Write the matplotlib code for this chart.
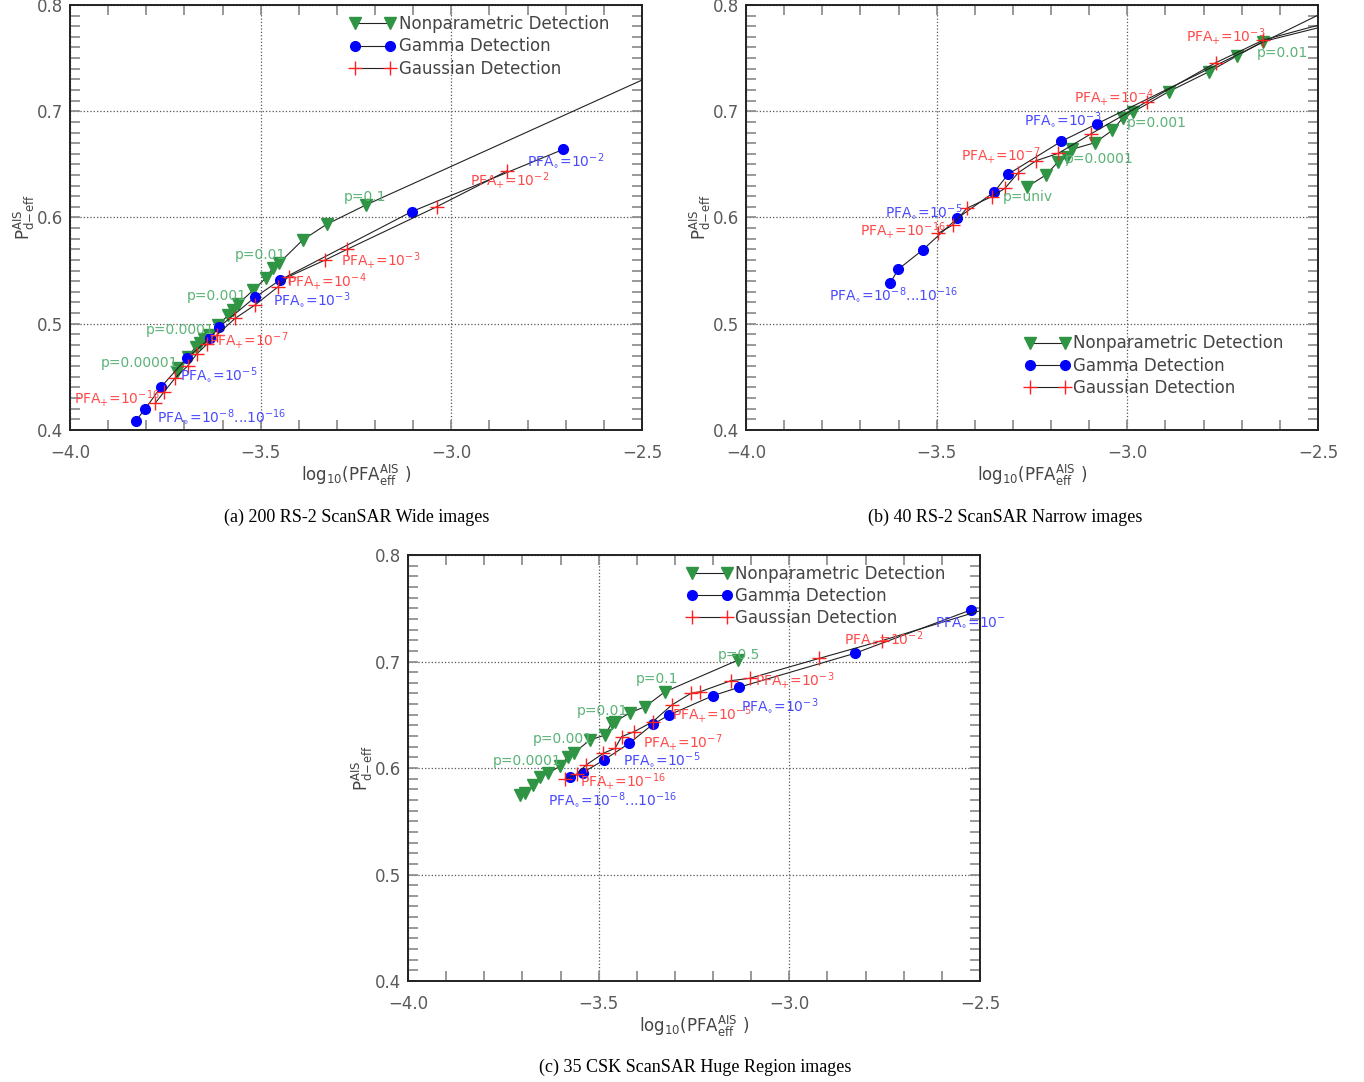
import numpy as np
import matplotlib
matplotlib.use('Agg')
import matplotlib.pyplot as plt
from matplotlib.ticker import MultipleLocator, FuncFormatter

# ---- data ----
# (a) 200 RS-2 ScanSAR Wide
a_np_x = [-3.720, -3.716, -3.691, -3.670, -3.659, -3.649, -3.635, -3.611, -3.585, -3.572,
          -3.559, -3.519, -3.487, -3.467, -3.452, -3.390, -3.327, -3.224, -2.400]
a_np_y = [0.4549, 0.4581, 0.4690, 0.4784, 0.4816, 0.4854, 0.4894, 0.4988, 0.5082, 0.5129,
          0.5186, 0.5318, 0.5428, 0.5528, 0.5569, 0.5788, 0.5936, 0.6118, 0.7456]
a_gam_x = [-3.827, -3.803, -3.762, -3.694, -3.633, -3.608, -3.515, -3.449, -3.104, -2.706]
a_gam_y = [0.4088, 0.4198, 0.4402, 0.4675, 0.4863, 0.4972, 0.5249, 0.5412, 0.6055, 0.6642]
a_gau_x = [-3.777, -3.753, -3.725, -3.691, -3.668, -3.641, -3.615, -3.567, -3.515, -3.454,
           -3.427, -3.331, -3.273, -3.038, -2.853]
a_gau_y = [0.4251, 0.4360, 0.4487, 0.4605, 0.4715, 0.4807, 0.4894, 0.5051, 0.5176, 0.5349,
           0.5443, 0.5600, 0.5701, 0.6102, 0.6440]

# (b) 40 RS-2 ScanSAR Narrow
b_np_x = [-3.262, -3.214, -3.181, -3.159, -3.145, -3.085, -3.040, -3.012, -2.985, -2.892,
          -2.786, -2.713, -2.645, -2.400]
b_np_y = [0.6290, 0.6400, 0.6525, 0.6567, 0.6642, 0.6704, 0.6819, 0.6936, 0.6993, 0.7184,
          0.7372, 0.7520, 0.7655, 0.7875]
b_gam_x = [-3.622, -3.601, -3.537, -3.446, -3.350, -3.312, -3.173, -3.079, -2.400]
b_gam_y = [0.5381, 0.5512, 0.5694, 0.5992, 0.6237, 0.6409, 0.6717, 0.6883, 0.8081]
b_gau_x = [-3.496, -3.458, -3.421, -3.356, -3.321, -3.286, -3.239, -3.181, -3.096, -2.949,
           -2.768, -2.643, -2.400]
b_gau_y = [0.5851, 0.5929, 0.6087, 0.6196, 0.6275, 0.6422, 0.6535, 0.6604, 0.6786, 0.7090,
           0.7457, 0.7671, 0.7906]

# (c) 35 CSK ScanSAR Huge Region
c_np_x = [-3.706, -3.693, -3.671, -3.654, -3.632, -3.601, -3.580, -3.564, -3.523, -3.483,
          -3.466, -3.457, -3.418, -3.378, -3.326, -3.134]
c_np_y = [0.5746, 0.5762, 0.5840, 0.5918, 0.5950, 0.6019, 0.6106, 0.6144, 0.6263, 0.6310,
          0.6420, 0.6435, 0.6519, 0.6576, 0.6716, 0.7014]
c_gam_x = [-3.575, -3.542, -3.486, -3.420, -3.358, -3.315, -3.201, -3.132, -2.828, -2.524]
c_gam_y = [0.5913, 0.5956, 0.6075, 0.6232, 0.6410, 0.6498, 0.6678, 0.6758, 0.7077, 0.7484]
c_gau_x = [-3.588, -3.558, -3.533, -3.488, -3.457, -3.440, -3.407, -3.358, -3.308, -3.258,
           -3.234, -3.153, -3.104, -2.921, -2.758, -2.460]
c_gau_y = [0.5894, 0.5941, 0.6028, 0.6138, 0.6185, 0.6294, 0.6341, 0.6435, 0.6592, 0.6701,
           0.6716, 0.6820, 0.6842, 0.7030, 0.7195, 0.7520]

captions = ['(a) 200 RS-2 ScanSAR Wide images',
            '(b) 40 RS-2 ScanSAR Narrow images',
            '(c) 35 CSK ScanSAR Huge Region images']
series_names = ['Nonparametric Detection', 'Gamma Detection', 'Gaussian Detection']

# ---- styles ----
GREEN, BLUE, RED = '#2f9444', '#0000ff', '#ff2020'
GREEN_T, BLUE_T, RED_T = '#5cb377', '#4a4aff', '#ff4a4a'
TXT = '#444444'

P = 'PFA$_{+}$'
O = 'PFA$_{\\circ}$'

notes_a = [('p=0.1', -3.281, 0.6193, GREEN_T), ('p=0.01', -3.567, 0.5647, GREEN_T),
           ('p=0.001', -3.693, 0.5261, GREEN_T), ('p=0.0001', -3.801, 0.4941, GREEN_T),
           ('p=0.00001', -3.919, 0.4631, GREEN_T),
           (P + '=10$^{-16}$', -3.990, 0.4301, RED_T),
           (O + '=10$^{-8}$...10$^{-16}$', -3.772, 0.4122, BLUE_T),
           (O + '=10$^{-5}$', -3.712, 0.4518, BLUE_T),
           (P + '=10$^{-7}$', -3.635, 0.4838, RED_T),
           (O + '=10$^{-3}$', -3.468, 0.5225, BLUE_T),
           (P + '=10$^{-4}$', -3.431, 0.5395, RED_T),
           (P + '=10$^{-3}$', -3.289, 0.5591, RED_T),
           (P + '=10$^{-2}$', -2.951, 0.6344, RED_T),
           (O + '=10$^{-2}$', -2.801, 0.6532, BLUE_T)]
notes_b = [(P + '=10$^{-3}$', -2.846, 0.7699, RED_T), ('p=0.01', -2.660, 0.7548, GREEN_T),
           (P + '=10$^{-4}$', -3.140, 0.7134, RED_T), (O + '=10$^{-3}$', -3.271, 0.6918, BLUE_T),
           ('p=0.001', -3.001, 0.6889, GREEN_T), (P + '=10$^{-7}$', -3.436, 0.6579, RED_T),
           ('p=0.0001', -3.163, 0.6551, GREEN_T), ('p=univ', -3.326, 0.6193, GREEN_T),
           (O + '=10$^{-5}$', -3.635, 0.6052, BLUE_T), (P + '=10$^{-16}$', -3.701, 0.5882, RED_T),
           (O + '=10$^{-8}$...10$^{-16}$', -3.782, 0.5271, BLUE_T)]
notes_c = [('p=0.5', -3.187, 0.7061, GREEN_T), ('p=0.1', -3.402, 0.6836, GREEN_T),
           ('p=0.01', -3.557, 0.6535, GREEN_T), ('p=0.001', -3.672, 0.6272, GREEN_T),
           ('p=0.0001', -3.777, 0.6066, GREEN_T),
           (P + '=10$^{-16}$', -3.549, 0.5872, RED_T),
           (O + '=10$^{-8}$...10$^{-16}$', -3.633, 0.5705, BLUE_T),
           (O + '=10$^{-5}$', -3.436, 0.6075, BLUE_T),
           (P + '=10$^{-7}$', -3.384, 0.6235, RED_T),
           (P + '=10$^{-5}$', -3.308, 0.6505, RED_T),
           (O + '=10$^{-3}$', -3.128, 0.6580, BLUE_T),
           (P + '=10$^{-3}$', -3.090, 0.6817, RED_T),
           (P + '=10$^{-2}$', -2.857, 0.7202, RED_T),
           (O + '=10$^{-}$', -2.618, 0.7371, BLUE_T)]

W, H = 1364, 1082
fig = plt.figure(figsize=(W / 100, H / 100), dpi=100)


def px_axes(left, top, right, bottom):
    return fig.add_axes([left / W, 1 - bottom / H, (right - left) / W, (bottom - top) / H])


def fmt(v, pos):
    return ('%.1f' % v).replace('-', '\u2212')


def draw_panel(ax, np_xy, gam_xy, gau_xy, notes, leg_anchor):
    ax.plot(np_xy[0], np_xy[1], color='#222222', lw=0.8, marker='v', ms=8,
            mfc=GREEN, mec=GREEN, label=series_names[0])
    ax.plot(gam_xy[0], gam_xy[1], color='#222222', lw=0.8, marker='o', ms=7,
            mfc=BLUE, mec=BLUE, label=series_names[1])
    ax.plot(gau_xy[0], gau_xy[1], color='#222222', lw=0.8, marker='+', ms=10, mew=1.0,
            mfc=RED, mec=RED, label=series_names[2])
    for txt, x, y, c in notes:
        ax.text(x, y, txt, color=c, fontsize=10, ha='left', va='center')

    ax.set_xlim(-4.0, -2.5)
    ax.set_ylim(0.4, 0.8)
    ax.xaxis.set_major_locator(MultipleLocator(0.5))
    ax.xaxis.set_minor_locator(MultipleLocator(0.1))
    ax.yaxis.set_major_locator(MultipleLocator(0.1))
    ax.yaxis.set_minor_locator(MultipleLocator(0.01))
    ax.xaxis.set_major_formatter(FuncFormatter(fmt))
    ax.yaxis.set_major_formatter(FuncFormatter(fmt))
    ax.tick_params(which='both', direction='in', top=True, right=True, length=7,
                   width=1.2, color='#888888', labelcolor='#5a5a5a', labelsize=12)
    ax.tick_params(axis='x', which='both', pad=10)
    ax.tick_params(axis='y', which='both', pad=5)
    ax.grid(True, which='major', linestyle=':', color='#555555', lw=0.9)
    for s in ax.spines.values():
        s.set_color('#222222')
        s.set_linewidth(1.4)
    ax.set_xlabel('log$_{10}$(PFA$^{\\rm AIS}_{\\rm eff}$ )', fontsize=12, color=TXT, labelpad=1)
    ax.set_ylabel('P$^{\\rm AIS}_{\\rm d\\!-\\!eff}$', fontsize=12, color=TXT, labelpad=0)

    leg = ax.legend(loc='upper left', bbox_to_anchor=leg_anchor, frameon=False, numpoints=2,
                    fontsize=12, handlelength=2.7, handletextpad=0.2, labelspacing=0.25,
                    borderpad=0, borderaxespad=0)
    for t in leg.get_texts():
        t.set_color(TXT)


ax_a = px_axes(70, 5, 642, 430)
draw_panel(ax_a, (a_np_x, a_np_y), (a_gam_x, a_gam_y), (a_gau_x, a_gau_y), notes_a, (0.49, 0.976))
ax_b = px_axes(746, 5, 1318, 430)
draw_panel(ax_b, (b_np_x, b_np_y), (b_gam_x, b_gam_y), (b_gau_x, b_gau_y), notes_b, (0.488, 0.225))
ax_c = px_axes(408, 555, 980, 981)
draw_panel(ax_c, (c_np_x, c_np_y), (c_gam_x, c_gam_y), (c_gau_x, c_gau_y), notes_c, (0.488, 0.977))

cap_font = dict(fontsize=13, family=['Liberation Serif', 'DejaVu Serif'], ha='center', va='center')
fig.text(357 / W, 1 - 517 / H, captions[0], **cap_font)
fig.text(1005 / W, 1 - 517 / H, captions[1], **cap_font)
fig.text(695 / W, 1 - 1067 / H, captions[2], **cap_font)

fig.savefig('out.png', dpi=100)
